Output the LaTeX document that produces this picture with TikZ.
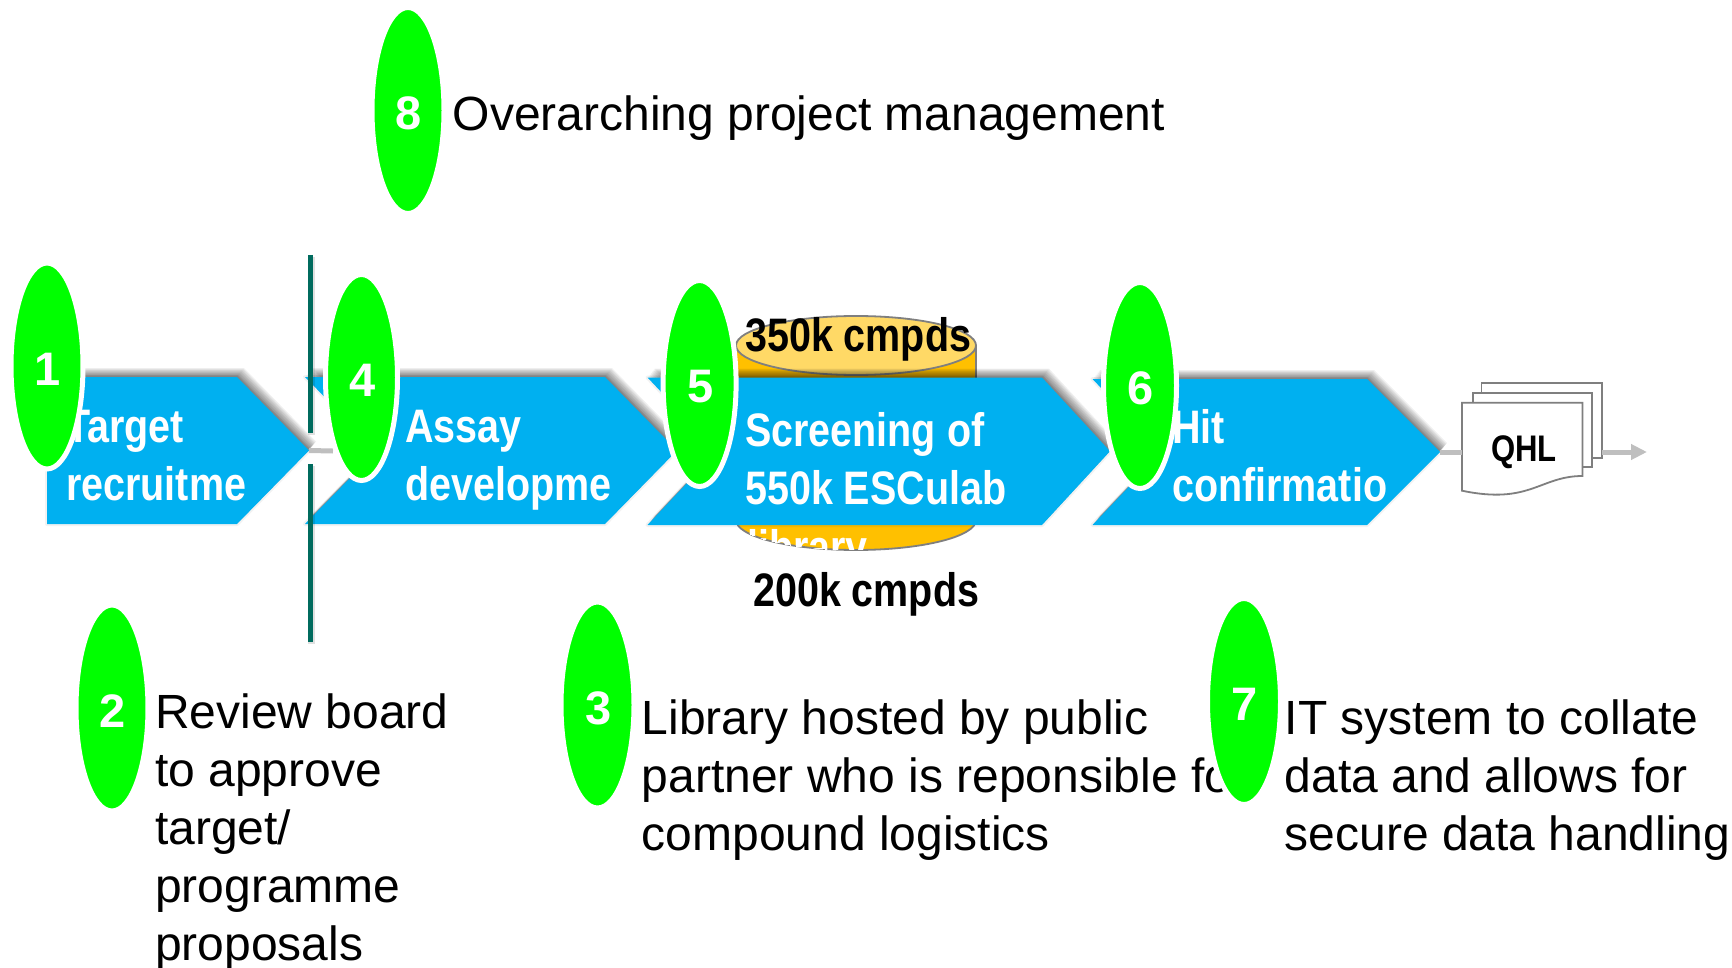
\documentclass[tikz,border=0pt]{standalone}
\usepackage{fontspec}
\setmainfont{Liberation Sans}
\newfontfamily\condb{Liberation Sans}[FakeStretch=0.84]
\usetikzlibrary{arrows.meta}
\definecolor{chevblue}{HTML}{00B0F0}
\definecolor{badgegreen}{HTML}{00FF00}
\definecolor{tealbar}{HTML}{006B5E}
\definecolor{conngray}{HTML}{BFBFBF}
\definecolor{cylbody}{HTML}{FFC000}
\definecolor{cyltop}{HTML}{FFD966}
\definecolor{edgegray}{HTML}{7F7F7F}
\newcommand{\mlines}[1]{\begin{tabular}[t]{@{}l@{}}#1\end{tabular}}
\tikzset{
  x=1pt,y=-1pt,
  digit/.style={text=white,font=\fontsize{47}{47}\selectfont\bfseries,inner sep=0pt,anchor=center},
  chevtext/.style={text=white,font=\condb\bfseries\fontsize{47}{58}\selectfont,inner sep=0pt,anchor=base west},
  darktext/.style={text=black,font=\condb\bfseries\fontsize{47}{58}\selectfont,inner sep=0pt,anchor=base west},
  body/.style={text=black,font=\fontsize{48}{58}\selectfont,inner sep=0pt,anchor=base west},
  shadowlayer/.style={fill=black,opacity=0.06},
  halolayer/.style={draw=black,opacity=0.05,line width=4pt,line join=round},
  chevfill/.style={fill=chevblue},
  connector/.style={draw=conngray,line width=5pt},
  sheet/.style={draw=edgegray,line width=1.8pt,fill=white},
  bar/.style={draw=tealbar,line width=5pt},
  barshadow/.style={draw=black,opacity=0.12,line width=7pt},
  badgefill/.style={draw=white,line width=5pt,fill=badgegreen},
}
% name, left, notch, shoulder, tip, top, bottom
\newcommand{\drawchev}[7]{%
  \coordinate (#1tip) at (#5,{(#6+#7)/2});
  \coordinate (#1notch) at (#3,{(#6+#7)/2});
  \path[halolayer] (#2,#6) -- (#4,#6) -- (#5,{(#6+#7)/2}) -- (#4,#7) -- (#2,#7) -- (#3,{(#6+#7)/2}) -- cycle;
  \foreach \k in {1,...,10}{
    \path[shadowlayer,shift={(0.7*\k,-0.9*\k)}] (#2,#6) -- (#4,#6) -- (#5,{(#6+#7)/2}) -- (#4,#7) -- (#2,#7) -- (#3,{(#6+#7)/2}) -- cycle;
  }
  \path[chevfill] (#2,#6) -- (#4,#6) -- (#5,{(#6+#7)/2}) -- (#4,#7) -- (#2,#7) -- (#3,{(#6+#7)/2}) -- cycle;
}
\newcommand{\drawbadge}[6]{% name, cx, cy, rx, ry, digit
  \path[badgefill] (#2,#3) ellipse [x radius=#4+2.5,y radius=#5+2.5];
  \node[digit] (#1) at (#2+1,#3+3) {#6};
}
\begin{document}
\begin{tikzpicture}
\useasboundingbox (0,0) rectangle (1732,968);

% cylinder
\path[draw=edgegray,line width=1.8pt,fill=cylbody] (736,345.5) -- (736,520) arc[start angle=180,end angle=0,x radius=120,y radius=30] -- (976,345.5) -- cycle;
\begin{scope}
  \clip (736,345.5) -- (736,520) arc[start angle=180,end angle=0,x radius=120,y radius=30] -- (976,345.5) -- cycle;
  \node[chevtext] (lib) at (747,563) {library};
\end{scope}
\path[draw=edgegray,line width=1.8pt,fill=cyltop] (856,345.5) ellipse [x radius=120,y radius=29.5];

% chevrons
\drawchev{a}{47}{47}{237}{309}{377}{524}
\drawchev{b}{305}{377}{605}{677}{377}{524}
\drawchev{c}{647.5}{717}{1042}{1110}{377.5}{525}
\drawchev{d}{1092.5}{1162}{1367}{1440}{379}{525}

\node[darktext] (top350) at (745,351) {350k cmpds};
\node[darktext] (bot200) at (753,606) {200k cmpds};

% document stack
\path[sheet] (1481.5,383) rectangle (1602,458);
\path[sheet] (1472.7,392.7) rectangle (1591.7,467);
\path[sheet] (1462,402.7) -- (1582.5,402.7) -- (1582.5,476) .. controls (1540,476) and (1530,505) .. (1462,490.7) -- cycle;
\node[font=\condb\bfseries\fontsize{37}{37}\selectfont,inner sep=0pt] (qhl) at (1524,452) {QHL};
\coordinate (stackright) at (1602,452);
\coordinate (stackleft) at (1462,452);
\coordinate (outend) at (1647,452);

% connectors
\draw[connector] (atip) -- (333,451);
\draw[connector] (dtip) -- (stackleft);
\draw[connector,-{Triangle[length=16pt,width=15pt]}] (stackright) -- (outend);

% chevron labels
\node[chevtext] (t1) at (66,442) {\mlines{Target\\recruitme}};
\node[chevtext] (t2) at (405,442) {\mlines{Assay\\developme}};
\node[chevtext] (t3) at (745,446.5) {\mlines{Screening of\\550k ESCulab}};
\node[chevtext] (t4) at (1172,443) {\mlines{Hit\\confirmatio}};

% review gate
\draw[barshadow] (311.5,257) -- (311.5,435);
\draw[barshadow] (311.5,466) -- (311.5,644);
\draw[bar] (310,255) -- (310,433);
\draw[bar] (310,464) -- (310,642);

% body text
\node[body] (t8) at (452.5,131) {Overarching project management};
\node[body] (t2b) at (155,728) {\mlines{Review board\\to approve\\target/\\programme\\proposals}};
\node[body] (t3b) at (641.5,734.5) {\mlines{Library hosted by public\\partner who is reponsible for\\compound logistics}};
\node[body] (t7b) at (1284.5,734.5) {\mlines{IT system to collate\\data and allows for\\secure data handling}};

% badges
\drawbadge{n1}{47}{366}{33.5}{100.5}{1}
\drawbadge{n4}{361.5}{377.5}{33.5}{100.5}{4}
\drawbadge{n5}{699.6}{383.5}{34}{100.5}{5}
\drawbadge{n6}{1140}{385.5}{34}{100.5}{6}
\drawbadge{n8}{408}{110.5}{33.5}{100.5}{8}
\drawbadge{n2}{112}{708}{33.5}{100.5}{2}
\drawbadge{n3}{597.5}{705}{34}{100.5}{3}
\drawbadge{n7}{1244}{701.5}{34}{100.5}{7}
\end{tikzpicture}
\end{document}
